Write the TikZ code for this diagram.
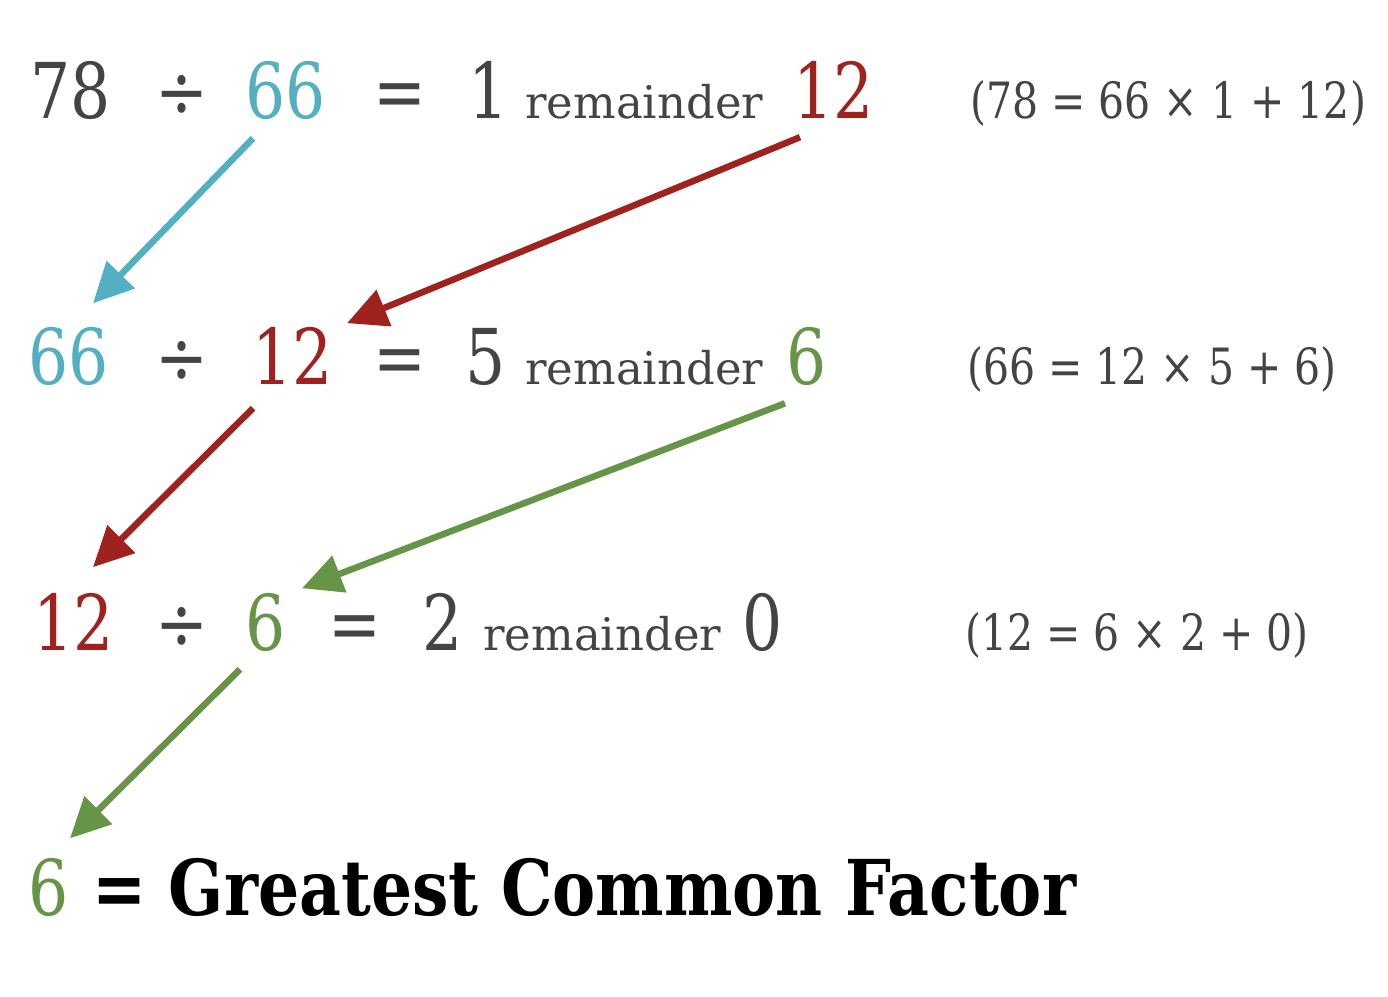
\documentclass[tikz,border=0pt]{standalone}
\usepackage{fontspec}
\usetikzlibrary{arrows.meta}
\newfontfamily\numfont[FakeStretch=0.82]{DejaVu Serif}
\newfontfamily\gcffont[FakeStretch=0.84]{DejaVu Serif}
\newfontfamily\wordfont{DejaVu Serif}
\definecolor{txtgray}{HTML}{444444}
\definecolor{gcdblue}{HTML}{53AFC2}
\definecolor{gcdred}{HTML}{A0221E}
\definecolor{gcdgreen}{HTML}{669548}
\newcommand\bignum{\numfont\fontsize{77}{80}\selectfont}
\newcommand\smallnum{\numfont\fontsize{50}{55}\selectfont}
\newcommand\remword{\wordfont\fontsize{45}{50}\selectfont}

\begin{document}
\begin{tikzpicture}[
    x=1pt, y=-1pt,
    num/.style={inner sep=0, anchor=base west, font=\bignum, text=txtgray},
    word/.style={inner sep=0, anchor=base west, font=\remword, text=txtgray},
    check/.style={inner sep=0, anchor=base west, font=\smallnum, text=txtgray},
    arr/.style={-{Triangle[length=40pt,width=38pt]}, line width=6.5pt}
]
\useasboundingbox (0,0) rectangle (1388,996);

% 78 / 66
\node[num] (div1) at (30,118) {78};
\node[num] (obel1) at (155,118) {÷};
\node[num, text=gcdblue] (dsr1) at (245,118) {66};
\node[num] (eq1) at (373,118) {=};
\node[num] (quo1) at (468,118) {1};
\node[word] (rtxt1) at (525,118) {remainder};
\node[num, text=gcdred] (rem1) at (793,118) {12};
\node[check] (chk1) at (970,118) {(78 = 66 × 1 + 12)};

% 66 / 12
\node[num, text=gcdblue] (div2) at (28,384) {66};
\node[num] (obel2) at (155,384) {÷};
\node[num, text=gcdred] (dsr2) at (252,384) {12};
\node[num] (eq2) at (373,384) {=};
\node[num] (quo2) at (465,384) {5};
\node[word] (rtxt2) at (525,384) {remainder};
\node[num, text=gcdgreen] (rem2) at (786,384) {6};
\node[check] (chk2) at (967,384) {(66 = 12 × 5 + 6)};

% 12 / 6
\node[num, text=gcdred] (div3) at (33,650) {12};
\node[num] (obel3) at (155,650) {÷};
\node[num, text=gcdgreen] (dsr3) at (245,650) {6};
\node[num] (eq3) at (328,650) {=};
\node[num] (quo3) at (422,650) {2};
\node[word] (rtxt3) at (483,650) {remainder};
\node[num] (rem3) at (742,650) {0};
\node[check] (chk3) at (965,650) {(12 = 6 × 2 + 0)};

% result
\node[num, text=gcdgreen] (gcf) at (28,915) {6};
\node[num, text=black, font=\gcffont\fontsize{77}{80}\selectfont\bfseries] (gcftxt) at (92,915) {= Greatest Common Factor};

\draw[arr, gcdblue] ([shift={(8,19)}]dsr1.south west) -- ([shift={(65,-82)}]div2.south west);
\draw[arr, gcdred] ([shift={(7,19)}]rem1.south west) -- ([shift={(95,-61)}]dsr2.south west);
\draw[arr, gcdred] ([shift={(1,24)}]dsr2.south west) -- ([shift={(60,-83)}]div3.south west);
\draw[arr, gcdgreen] ([shift={(-1,18)}]rem2.south west) -- ([shift={(57,-63)}]dsr3.south west);
\draw[arr, gcdgreen] ([shift={(-5,18)}]dsr3.south west) -- ([shift={(42,-78)}]gcf.south west);
\end{tikzpicture}
\end{document}
